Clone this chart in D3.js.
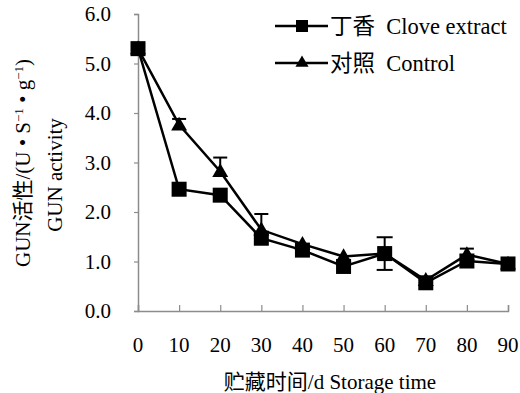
<!DOCTYPE html>
<html>
<head>
<meta charset="utf-8">
<script src="https://cdn.jsdelivr.net/npm/d3@7"></script>
<style>
  body { margin: 0; background: #fff; }
  svg { display: block; }
  text { font-family: "Liberation Serif", "Times New Roman", "Noto Sans CJK SC", serif; fill: #000; white-space: pre; }
</style>
</head>
<body>
<div id="chart"></div>
<script>
// storage time (days)
const days = [0, 10, 20, 30, 40, 50, 60, 70, 80, 90];
// 丁香 Clove extract
const cloveValues = [5.30, 2.46, 2.34, 1.47, 1.23, 0.90, 1.16, 0.57, 1.01, 0.95];
const cloveErrors = [0, 0, 0, 0, 0, 0, 0.33, 0, 0, 0];
// 对照 Control
const controlValues = [5.30, 3.76, 2.82, 1.64, 1.35, 1.10, 1.16, 0.62, 1.14, 0.95];
const controlErrors = [0, 0.12, 0.28, 0.32, 0, 0, 0, 0, 0.12, 0];
const yTicks = [0, 1, 2, 3, 4, 5, 6];

const width = 520, height = 393;
const margin = { left: 138, right: 12, top: 14, bottom: 82 };

const svg = d3.select('#chart').append('svg')
    .attr('width', width)
    .attr('height', height);

const x = d3.scaleLinear().domain([0, 90]).range([margin.left, 508]);
const y = d3.scaleLinear().domain([0, 6]).range([height - margin.bottom, margin.top]);

const axisColor = '#8c8c8c';
const fs = '21px';

// x axis: ticks point up into plot
const xAxis = svg.append('g')
    .attr('transform', `translate(0,${y(0)})`)
    .call(d3.axisTop(x).tickValues(days).tickSize(6).tickFormat(''));
xAxis.select('.domain').attr('stroke', axisColor).attr('stroke-width', 1.5);
xAxis.selectAll('.tick line').attr('stroke', axisColor).attr('stroke-width', 1.2);

svg.append('g').selectAll('text')
    .data(days)
    .enter().append('text')
    .attr('x', d => x(d))
    .attr('y', y(0) + 41)
    .attr('text-anchor', 'middle')
    .style('font-size', fs)
    .text(d => d);

// y axis
const yAxis = svg.append('g')
    .attr('transform', `translate(${x(0)},0)`)
    .call(d3.axisLeft(y).tickValues(yTicks).tickSize(4).tickFormat(''));
yAxis.select('.domain').attr('stroke', axisColor).attr('stroke-width', 1.5);
yAxis.selectAll('.tick line').attr('stroke', axisColor).attr('stroke-width', 1.2);

svg.append('g').selectAll('text')
    .data(yTicks)
    .enter().append('text')
    .attr('x', 111)
    .attr('y', d => y(d) + 7)
    .attr('text-anchor', 'end')
    .style('font-size', fs)
    .text(d => d.toFixed(1));

// axis titles
svg.append('text')
    .attr('x', 330)
    .attr('y', 389)
    .attr('text-anchor', 'middle')
    .style('font-size', fs)
    .text('贮藏时间/d Storage time');

const yTitle1 = svg.append('text')
    .attr('transform', 'translate(30,163) rotate(-90)')
    .attr('text-anchor', 'middle')
    .style('font-size', fs);
yTitle1.append('tspan').text('GUN活性/(U • S');
yTitle1.append('tspan').attr('dy', -7).style('font-size', '13px').text('−1');
yTitle1.append('tspan').attr('dy', 7).text(' • g');
yTitle1.append('tspan').attr('dy', -7).style('font-size', '13px').text('−1');
yTitle1.append('tspan').attr('dy', 7).text(')');

svg.append('text')
    .attr('transform', 'translate(62,175) rotate(-90)')
    .attr('text-anchor', 'middle')
    .style('font-size', fs)
    .text('GUN activity');

const line = d3.line().x((d, i) => x(days[i])).y(d => y(d));

const triangle = d3.symbol().type(d3.symbolTriangle);

function drawErrors(values, errors, upOnly, capW) {
    const g = svg.append('g').attr('stroke', '#000').attr('stroke-width', 2);
    days.forEach((d, i) => {
        if (!errors[i]) return;
        const top = y(values[i] + errors[i]);
        const bot = upOnly ? y(values[i]) : y(values[i] - errors[i]);
        g.append('line').attr('x1', x(d)).attr('x2', x(d)).attr('y1', top).attr('y2', bot);
        g.append('line').attr('x1', x(d) - capW / 2).attr('x2', x(d) + capW / 2).attr('y1', top).attr('y2', top);
        if (!upOnly) {
            g.append('line').attr('x1', x(d) - capW / 2).attr('x2', x(d) + capW / 2).attr('y1', bot).attr('y2', bot);
        }
    });
}

// control series
drawErrors(controlValues, controlErrors, true, 14);
svg.append('path')
    .datum(controlValues)
    .attr('d', line)
    .attr('fill', 'none')
    .attr('stroke', '#000')
    .attr('stroke-width', 2.5);
svg.append('g').selectAll('path')
    .data(controlValues)
    .enter().append('path')
    .attr('d', triangle.size(110))
    .attr('transform', (d, i) => `translate(${x(days[i])},${y(d) + 1})`)
    .attr('fill', '#000');

// clove series
drawErrors(cloveValues, cloveErrors, false, 16);
svg.append('path')
    .datum(cloveValues)
    .attr('d', line)
    .attr('fill', 'none')
    .attr('stroke', '#000')
    .attr('stroke-width', 2.5);
svg.append('g').selectAll('rect')
    .data(cloveValues)
    .enter().append('rect')
    .attr('x', (d, i) => x(days[i]) - 7.5)
    .attr('y', d => y(d) - 7.5)
    .attr('width', 15)
    .attr('height', 15)
    .attr('fill', '#000');

// legend
const legend = [
    { label: '丁香  Clove extract', shape: 'square', y: 26 },
    { label: '对照  Control', shape: 'triangle', y: 63 }
];
const lg = svg.append('g');
legend.forEach(item => {
    lg.append('line')
        .attr('x1', 275).attr('x2', 328)
        .attr('y1', item.y).attr('y2', item.y)
        .attr('stroke', '#000').attr('stroke-width', 2.5);
    if (item.shape === 'square') {
        lg.append('rect').attr('x', 296).attr('y', item.y - 6)
            .attr('width', 12).attr('height', 12).attr('fill', '#000');
    } else {
        lg.append('path').attr('d', triangle.size(75))
            .attr('transform', `translate(302,${item.y})`).attr('fill', '#000');
    }
    lg.append('text')
        .attr('x', 330)
        .attr('y', item.y + 8)
        .style('font-size', '22.5px')
        .text(item.label);
});
</script>
</body>
</html>
